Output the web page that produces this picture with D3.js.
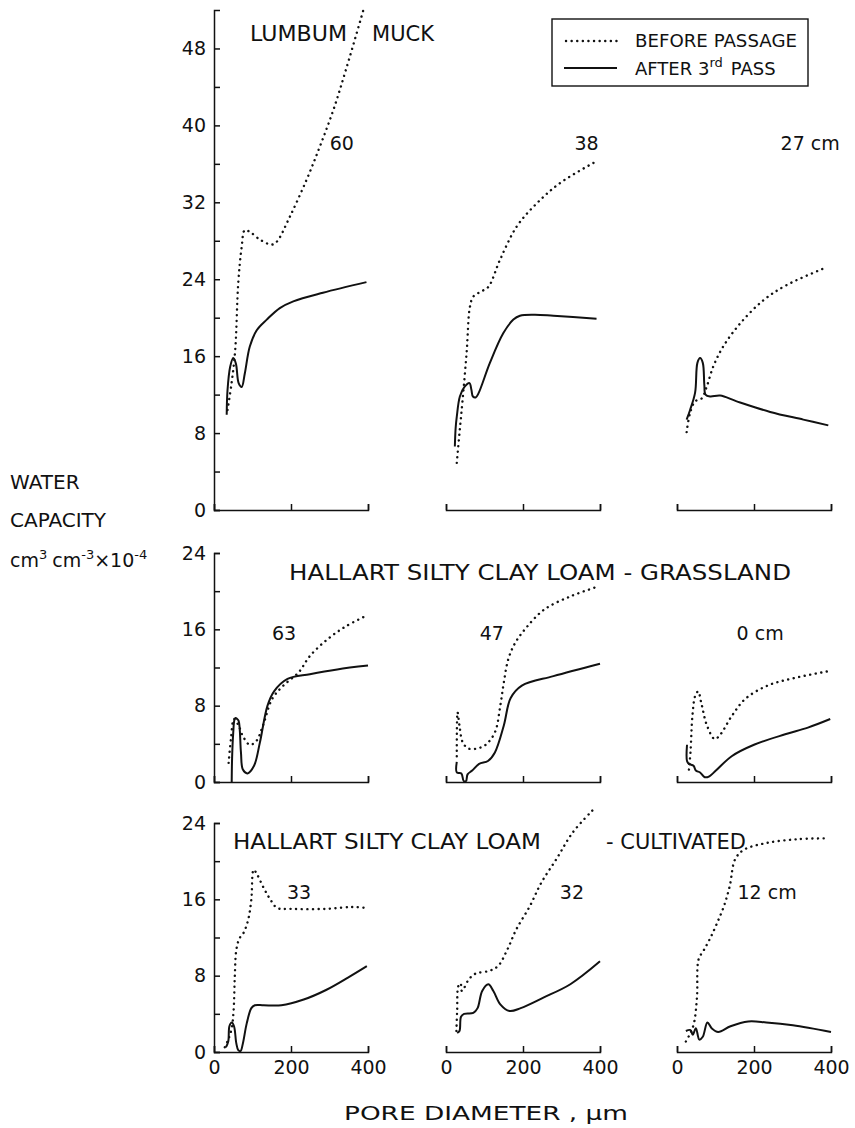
<!DOCTYPE html>
<html>
<head>
<meta charset="utf-8">
<script src="https://cdn.jsdelivr.net/npm/d3@7"></script>
<style>
  body { margin: 0; background: #fff; }
  svg { display: block; }
  text { font-family: "DejaVu Sans", "Liberation Sans", sans-serif; fill: #111; }
  .axis path, .axis line { stroke: #111; stroke-width: 1.5; fill: none; }
  .axis text { font-size: 19px; font-family: "DejaVu Sans", sans-serif; fill: #111; }
  .after { fill: none; stroke: #111; stroke-width: 2; }
  .before { fill: none; stroke: #111; stroke-width: 2.4; stroke-dasharray: 0.1 5.5; stroke-linecap: round; }
</style>
</head>
<body>
<svg width="855" height="1128"></svg>
<script>
// pore diameter (um), water capacity (cm3 cm-3 x 10^-4)
const muck60Before = [[35,10.4],[45,13],[55,16.6],[63,23.6],[72,27.4],[80,29.1],[94,28.9],[120,28.1],[150,27.6],[163,27.9],[197,30.5],[240,34.3],[275,37.8],[310,41.6],[345,46.1],[388,52]];
const muck60After = [[33,9.9],[35,12.4],[42,14.9],[50,15.8],[57,15.2],[64,13.2],[72,12.8],[80,14.2],[93,17],[111,18.7],[137,19.8],[171,21],[206,21.7],[283,22.6],[396,23.7]];
const muck38Before = [[28,4.9],[35,8],[43,11.4],[54,16.6],[62,21.1],[71,22.2],[90,22.7],[110,23.2],[140,26],[184,29.5],[236,31.9],[296,34],[383,36.1]];
const muck38After = [[23,6.6],[25,8.5],[28,9.7],[36,11.8],[48,12.8],[61,13.2],[66,12.5],[70,11.8],[77,11.7],[84,12.1],[114,15.3],[149,18.4],[175,19.8],[192,20.2],[230,20.3],[279,20.2],[391,19.9]];
const muck27Before = [[25,8.1],[34,10.1],[47,11.3],[64,11.6],[77,12.8],[94,14.9],[120,17],[164,19.4],[224,21.8],[285,23.4],[380,25.1]];
const muck27After = [[25,9.4],[34,10.4],[47,12.2],[53,15.3],[60,15.8],[67,15.3],[71,13],[74,12],[86,11.8],[112,11.9],[155,11.3],[242,10.2],[328,9.4],[393,8.8]];

const grass63Before = [[38,2.0],[44,4.5],[52,6.6],[64,5.9],[75,4.8],[93,3.9],[110,4.3],[127,5.9],[151,8.7],[180,10.1],[220,11.5],[249,13.2],[296,15],[342,16.3],[394,17.4]];
const grass63After = [[46,0],[47,2.5],[50,5.2],[53,6.5],[56,6.7],[60,6.6],[64,6.4],[70,3.1],[75,1.3],[87,0.9],[104,1.7],[119,4.1],[139,8],[156,9.5],[191,10.8],[249,11.3],[320,11.8],[400,12.2]];
const grass47Before = [[28,2.7],[30,7.3],[35,5.9],[44,4.1],[59,3.5],[80,3.5],[103,3.9],[127,5.2],[141,8],[150,10.4],[162,12.9],[180,14.6],[209,16.2],[256,18.1],[326,19.5],[396,20.5]];
const grass47After = [[28,2.1],[28,1.0],[40,0.9],[46,0.1],[52,0.1],[56,0.8],[68,1.2],[86,1.9],[109,2.2],[127,3.1],[150,5.9],[168,8.8],[197,10.1],[279,11.1],[400,12.4]];
const grass0Before = [[31,1.3],[35,3.1],[40,6.9],[47,9.0],[55,9.5],[63,8.3],[78,5.9],[98,4.5],[113,5.0],[142,6.9],[177,8.7],[235,10.1],[305,10.9],[392,11.6]];
const grass0After = [[26,3.9],[26,2.2],[31,1.9],[43,1.7],[49,1.2],[60,1.0],[72,0.5],[84,0.6],[101,1.2],[142,2.7],[200,3.9],[281,5.0],[340,5.7],[398,6.6]];

const cult33Before = [[28,0.5],[37,1.3],[46,2.5],[51,4.4],[54,7.9],[58,10.7],[66,11.9],[77,12.5],[89,13.9],[97,16],[103,19.1],[112,18.6],[129,17.2],[146,16],[164,15.1],[198,15],[291,15],[360,15.2],[394,15.1]];
const cult33After = [[31,0.5],[37,1.1],[40,2.7],[46,3.1],[52,2.7],[58,0.9],[63,0.2],[69,0.1],[75,0.9],[85,3.0],[97,4.6],[106,4.9],[129,4.9],[175,4.9],[233,5.5],[291,6.5],[348,7.8],[397,9.0]];
const cult32Before = [[27,2.2],[29,4.4],[32,6.9],[38,7.2],[41,6.4],[47,6.7],[59,7.6],[76,8.2],[112,8.5],[135,9.0],[159,10.7],[182,12.8],[218,15.3],[247,17.7],[288,20.3],[329,23],[380,25.3]];
const cult32After = [[29,2.0],[35,2.2],[39,3.7],[47,4.0],[71,4.1],[82,4.6],[94,6.4],[110,7.1],[123,6.4],[141,5.0],[165,4.3],[194,4.6],[253,5.7],[323,7.1],[400,9.5]];
const cult12Before = [[23,1.1],[35,2.0],[44,3.0],[52,5.8],[56,9.7],[70,10.7],[86,11.9],[104,13.5],[122,15.3],[137,17.4],[151,20.2],[174,21.2],[232,21.9],[313,22.3],[394,22.4]];
const cult12After = [[23,2.2],[35,2.3],[41,1.8],[49,2.5],[58,1.3],[67,1.6],[79,3.1],[90,2.5],[107,2.1],[139,2.7],[185,3.2],[232,3.1],[301,2.8],[400,2.1]];

const depthLabels = ["60", "38", "27 cm", "63", "47", "0 cm", "33", "32", "12 cm"];
const xTickValues = [0, 200, 400];
const topYTicks = [0, 4, 8, 12, 16, 20, 24, 28, 32, 36, 40, 44, 48];
const lowYTicks = [0, 4, 8, 12, 16, 20, 24];

const svg = d3.select("svg");
const colX = [214, 446, 677], panelW = 154;

// one entry per row: y range in px and data domain
const rows = [
    { top: 10, bottom: 510, max: 52, ticks: topYTicks },
    { top: 553, bottom: 782, max: 24, ticks: lowYTicks },
    { top: 823, bottom: 1052, max: 24, ticks: lowYTicks }
];

const panels = [
    { row: 0, col: 0, before: muck60Before, after: muck60After, label: [332, 38.2] },
    { row: 0, col: 1, before: muck38Before, after: muck38After, label: [365, 38.2] },
    { row: 0, col: 2, before: muck27Before, after: muck27After, label: [346, 38.2] },
    { row: 1, col: 0, before: grass63Before, after: grass63After, label: [182, 15.6] },
    { row: 1, col: 1, before: grass47Before, after: grass47After, label: [119, 15.6] },
    { row: 1, col: 2, before: grass0Before, after: grass0After, label: [216, 15.6] },
    { row: 2, col: 0, before: cult33Before, after: cult33After, label: [221, 16.8] },
    { row: 2, col: 1, before: cult32Before, after: cult32After, label: [327, 16.8] },
    { row: 2, col: 2, before: cult12Before, after: cult12After, label: [234, 16.8] }
];

panels.forEach((p, i) => {
    const r = rows[p.row];
    const x = d3.scaleLinear().domain([0, 400]).range([colX[p.col], colX[p.col] + panelW]);
    const y = d3.scaleLinear().domain([0, r.max]).range([r.bottom, r.top]);

    const xAxis = d3.axisBottom(x)
        .tickValues(xTickValues)
        .tickSizeInner(-6)
        .tickSizeOuter(-6)
        .tickPadding(9)
        .tickFormat(p.row === 2 ? d3.format("d") : "");
    svg.append("g")
        .attr("class", "axis")
        .attr("transform", `translate(0,${r.bottom})`)
        .call(xAxis);

    if (p.col === 0) {
        const yAxis = d3.axisLeft(y)
            .tickValues(r.ticks)
            .tickSizeInner(-6)
            .tickSizeOuter(-6)
            .tickPadding(8)
            .tickFormat(d => d % 8 === 0 ? d : "");
        svg.append("g")
            .attr("class", "axis")
            .attr("transform", `translate(${colX[0]},0)`)
            .call(yAxis);
    }

    const line = d3.line()
        .x(d => x(d[0]))
        .y(d => y(d[1]))
        .curve(d3.curveCatmullRom.alpha(0.5));

    svg.append("path").datum(p.before).attr("class", "before").attr("d", line);
    svg.append("path").datum(p.after).attr("class", "after").attr("d", line);

    svg.append("text")
        .attr("x", x(p.label[0]))
        .attr("y", y(p.label[1]))
        .attr("dy", "0.36em")
        .attr("text-anchor", "middle")
        .style("font-size", "19px")
        .text(depthLabels[i]);
});

// soil titles
const titles = [
    { text: "LUMBUM", x: 250, y: 41, len: 97 },
    { text: "MUCK", x: 372, y: 41, len: 62 },
    { text: "HALLART  SILTY  CLAY  LOAM  - GRASSLAND", x: 289, y: 580, len: 502 },
    { text: "HALLART  SILTY  CLAY  LOAM", x: 233, y: 849, len: 308 },
    { text: "- CULTIVATED", x: 606, y: 849, len: 140 }
];
svg.selectAll(".title")
    .data(titles)
    .enter().append("text")
    .attr("class", "title")
    .attr("x", d => d.x)
    .attr("y", d => d.y)
    .attr("textLength", d => d.len)
    .attr("lengthAdjust", "spacingAndGlyphs")
    .style("font-size", "21px")
    .text(d => d.text);

// legend
const legend = svg.append("g");
legend.append("rect")
    .attr("x", 552).attr("y", 19)
    .attr("width", 256).attr("height", 67)
    .attr("fill", "none").attr("stroke", "#111").attr("stroke-width", 1.4);
legend.append("line").attr("class", "before")
    .attr("x1", 566).attr("x2", 617).attr("y1", 41).attr("y2", 41);
legend.append("line").attr("class", "after")
    .attr("x1", 564).attr("x2", 617).attr("y1", 68).attr("y2", 68);
legend.append("text")
    .attr("x", 635).attr("y", 47)
    .attr("textLength", 162).attr("lengthAdjust", "spacingAndGlyphs")
    .style("font-size", "18px")
    .text("BEFORE  PASSAGE");
const after = legend.append("text")
    .attr("x", 635).attr("y", 75)
    .style("font-size", "18px");
after.append("tspan").text("AFTER  3");
after.append("tspan").attr("dy", -8).style("font-size", "13px").text("rd");
after.append("tspan").attr("dy", 8).attr("dx", 8).text("PASS");

// y title
const yTitle = svg.append("g").style("font-size", "20px");
yTitle.append("text").attr("x", 10).attr("y", 489).text("WATER");
yTitle.append("text").attr("x", 10).attr("y", 527).text("CAPACITY");
const unit = yTitle.append("text").attr("x", 10).attr("y", 567).style("font-size", "19px");
unit.append("tspan").text("cm");
unit.append("tspan").attr("dy", -8).style("font-size", "13px").text("3");
unit.append("tspan").attr("dy", 8).attr("dx", 5).text("cm");
unit.append("tspan").attr("dy", -8).style("font-size", "13px").text("-3");
unit.append("tspan").attr("dy", 8).text("\u00d7");
unit.append("tspan").text("10");
unit.append("tspan").attr("dy", -8).style("font-size", "13px").text("-4");

// x title
svg.append("text")
    .attr("x", 344).attr("y", 1120)
    .attr("textLength", 284).attr("lengthAdjust", "spacingAndGlyphs")
    .style("font-size", "19px")
    .text("PORE  DIAMETER ,  \u03bcm");
</script>
</body>
</html>
